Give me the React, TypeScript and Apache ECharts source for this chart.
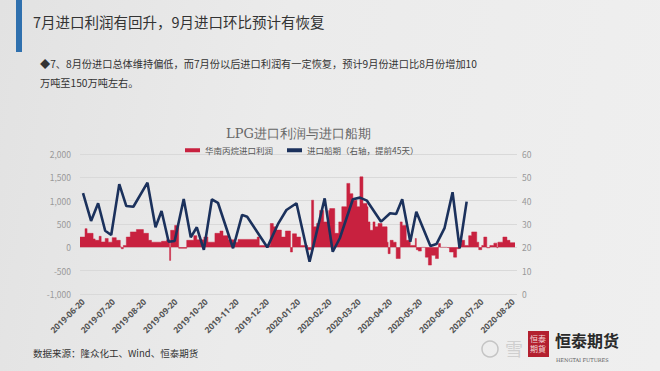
import React, { useEffect, useRef } from "react";
import * as echarts from "echarts";

const xTickLabels = [
  "2019-06-20", "2019-07-20", "2019-08-20", "2019-09-20", "2019-10-20",
  "2019-11-20", "2019-12-20", "2020-01-20", "2020-02-20", "2020-03-20",
  "2020-04-20", "2020-05-20", "2020-06-20", "2020-07-20", "2020-08-20",
];

// 华南丙烷进口利润 (left axis), value holds from its date until the next one
const profitDates = [
  "2019-06-17", "2019-06-22", "2019-06-24", "2019-06-30", "2019-07-02", "2019-07-06",
  "2019-07-08", "2019-07-12", "2019-07-15", "2019-07-19", "2019-07-23", "2019-07-27",
  "2019-07-28", "2019-07-30", "2019-08-02", "2019-08-06", "2019-08-12", "2019-08-19",
  "2019-08-24", "2019-08-27", "2019-09-06", "2019-09-11", "2019-09-14", "2019-09-15",
  "2019-09-19", "2019-09-23", "2019-10-01", "2019-10-08", "2019-10-11", "2019-10-18",
  "2019-10-22", "2019-10-29", "2019-11-03", "2019-11-06", "2019-11-11", "2019-11-18",
  "2019-11-21", "2019-12-10", "2019-12-12", "2019-12-23", "2019-12-26", "2019-12-29",
  "2020-01-03", "2020-01-07", "2020-01-12", "2020-01-14", "2020-01-18", "2020-01-22",
  "2020-01-29", "2020-02-02", "2020-02-04", "2020-02-07", "2020-02-10", "2020-02-14",
  "2020-02-19", "2020-02-20", "2020-02-25", "2020-02-29", "2020-03-03", "2020-03-08",
  "2020-03-11", "2020-03-14", "2020-03-18", "2020-03-21", "2020-03-24", "2020-03-28",
  "2020-03-29", "2020-03-31", "2020-04-03", "2020-04-05", "2020-04-08", "2020-04-12",
  "2020-04-17", "2020-04-18", "2020-04-20", "2020-04-23", "2020-04-26", "2020-04-30",
  "2020-05-02", "2020-05-06", "2020-05-10", "2020-05-15", "2020-05-16", "2020-05-18",
  "2020-05-21", "2020-05-25", "2020-05-28", "2020-05-31", "2020-06-04", "2020-06-07",
  "2020-06-09", "2020-06-15", "2020-06-18", "2020-06-22", "2020-06-25", "2020-06-28",
  "2020-06-30", "2020-07-03", "2020-07-07", "2020-07-10", "2020-07-15", "2020-07-17",
  "2020-07-20", "2020-07-22", "2020-07-25", "2020-07-28", "2020-08-01", "2020-08-04",
  "2020-08-05", "2020-08-10", "2020-08-14", "2020-08-17", "2020-08-22",
];
const profitValues = [
  220, 400, 300, 180, 150, 236,
  115, 190, 110, 208, 150, 10,
  -30, 40, 220, 330, 380, 300,
  150, 110, 130, 160, -280, 365,
  470, -20, 150, 250, 160, 220,
  110, 300, 350, 250, 160, 110,
  170, 220, 40, 510, 440, 370,
  220, 350, -100, 290, 220, 40,
  -50, 1010, 440, 510, 790, 545,
  790, 830, 300, 545, 870, 1370,
  1150, 1010, 870, 1510, 940, 870,
  545, 365, 545, 440, 510, 440,
  110, -135, 150, 110, -240, 545,
  470, 150, 40, 190, -50, -80,
  0, -210, -380, -170, -240, 80,
  0, -10, -100, -210, -30, 80,
  150, 40, 250, 330, 110, -50,
  40, 220, -10, 40, 90, -10,
  110, 220, 150, 100, 100,
];

// 进口船期（右轴，提前45天）
const shipDates = [
  "2019-06-20", "2019-06-28", "2019-07-05", "2019-07-12", "2019-07-18", "2019-07-26",
  "2019-08-02", "2019-08-09", "2019-08-23", "2019-08-31", "2019-09-06", "2019-09-13",
  "2019-09-19", "2019-09-28", "2019-10-05", "2019-10-11", "2019-10-18", "2019-10-26",
  "2019-11-01", "2019-11-16", "2019-11-25", "2019-11-30", "2019-12-20", "2019-12-31",
  "2020-01-08", "2020-01-18", "2020-01-31", "2020-02-15", "2020-02-23", "2020-03-01",
  "2020-03-14", "2020-03-21", "2020-03-28", "2020-04-11", "2020-04-20", "2020-04-26",
  "2020-05-02", "2020-05-10", "2020-05-16", "2020-05-30", "2020-06-05", "2020-06-13",
  "2020-06-21", "2020-06-28", "2020-07-05",
];
const shipValues = [
  43.2, 31.3, 38.9, 27.1, 25.3, 47.1,
  37.7, 37.4, 47.7, 28.6, 35.6, 22.4,
  22.7, 40.7, 24.3, 28.6, 18.9, 40.6,
  39.1, 19.6, 33.9, 33.1, 20.0, 30.3,
  36.0, 38.9, 13.8, 41.0, 18.1, 23.9,
  40.6, 41.3, 40.0, 31.0, 34.6, 34.3,
  40.6, 22.4, 35.3, 20.6, 21.4, 28.2,
  43.6, 19.6, 39.6,
];

const profitName = "华南丙烷进口利润";
const shipName = "进口船期（右轴，提前45天）";

const ts = (s: string) => new Date(s + "T00:00:00").getTime();
const pad = (n: number) => (n < 10 ? "0" + n : "" + n);

export default function App() {
  const ref = useRef<HTMLDivElement>(null);

  useEffect(() => {
    if (!ref.current) return;
    const chart = echarts.init(ref.current, undefined, { renderer: "svg" });
    const cjk = "'Noto Sans CJK SC', 'Noto Sans', sans-serif";
    const option: any = {
      animation: false,
      backgroundColor: "transparent",
      textStyle: { fontFamily: cjk },
      title: {
        text: "LPG进口利润与进口船期",
        left: 221,
        top: 122,
        textStyle: {
          fontFamily: "'DejaVu Serif', 'Liberation Serif', serif",
          fontSize: 13,
          fontWeight: "normal",
          color: "#666",
        },
      },
      legend: {
        left: 180,
        top: 141,
        itemGap: 14,
        itemWidth: 15,
        itemHeight: 4,
        textStyle: { fontSize: 8.5, color: "#555", fontFamily: cjk },
        data: [
          { name: profitName, icon: "rect" },
          { name: shipName, icon: "rect" },
        ],
      },
      grid: { left: 80, right: 143, top: 154, bottom: 77 },
      xAxis: {
        type: "value",
        min: ts("2019-06-17"),
        max: ts("2020-08-24"),
        axisLine: { show: false },
        axisTick: { show: false },
        splitLine: { show: false },
        axisLabel: {
          customValues: xTickLabels.map(ts),
          hideOverlap: false,
          showMinLabel: true,
          showMaxLabel: true,
          rotate: 45,
          margin: 6,
          fontSize: 8.5,
          fontWeight: "bold",
          color: "#555",
          fontFamily: "'Open Sans', 'Noto Sans', sans-serif",
          formatter: (v: number) => {
            const d = new Date(v);
            return d.getFullYear() + "-" + pad(d.getMonth() + 1) + "-" + pad(d.getDate());
          },
        },
      },
      yAxis: [
        {
          type: "value",
          min: -1000,
          max: 2000,
          interval: 500,
          axisLine: { show: false },
          axisTick: { show: false },
          axisLabel: {
            fontSize: 8.5,
            color: "#999",
            margin: 9,
            formatter: (v: number) => v.toLocaleString("en-US"),
          },
          splitLine: { lineStyle: { color: "#d9d9d9", width: 1 } },
        },
        {
          type: "value",
          min: 0,
          max: 60,
          interval: 10,
          position: "right",
          axisLine: { show: false },
          axisTick: { show: false },
          axisLabel: { fontSize: 8.5, color: "#999", margin: 5 },
          splitLine: { show: false },
        },
      ],
      series: [
        {
          name: profitName,
          type: "line",
          step: "end",
          yAxisIndex: 0,
          symbol: "none",
          color: "#c8213f",
          lineStyle: { width: 0.5, color: "#c8213f" },
          areaStyle: { color: "#c8213f", opacity: 1 },
          data: profitDates.map((d, i) => [ts(d), profitValues[i]]),
          z: 2,
        },
        {
          name: shipName,
          type: "line",
          yAxisIndex: 1,
          symbol: "none",
          color: "#1b315c",
          lineStyle: { width: 2.6, color: "#1b315c" },
          data: shipDates.map((d, i) => [ts(d), shipValues[i]]),
          z: 3,
        },
      ],
      graphic: [
        { type: "rect", left: 16, top: 0, shape: { width: 6, height: 52 }, style: { fill: "#2f70ae" } },
        {
          type: "text",
          left: 33,
          top: 14,
          style: { text: "7月进口利润有回升，9月进口环比预计有恢复", fontSize: 14.5, fill: "#333", fontFamily: cjk },
        },
        {
          type: "text",
          left: 40,
          top: 58,
          style: {
            text: "◆7、8月份进口总体维持偏低，而7月份以后进口利润有一定恢复，预计9月份进口比8月份增加10",
            fontSize: 10.2,
            fill: "#333",
            fontFamily: cjk,
          },
        },
        {
          type: "text",
          left: 40,
          top: 77,
          style: { text: "万吨至150万吨左右。", fontSize: 10.2, fill: "#333", fontFamily: cjk },
        },
        {
          type: "text",
          left: 33,
          top: 348,
          style: { text: "数据来源：隆众化工、Wind、恒泰期货", fontSize: 9.5, fill: "#333", fontFamily: cjk },
        },
        { type: "circle", shape: { cx: 490, cy: 349, r: 8 }, style: { fill: "none", stroke: "#c4c4c4", lineWidth: 1.5 } },
        {
          type: "text",
          left: 505,
          top: 339,
          style: { text: "雪", fontSize: 18, fill: "#cfcfcf", fontFamily: cjk },
        },
        { type: "rect", left: 528, top: 331, shape: { width: 21, height: 26 }, style: { fill: "#b3202f" } },
        {
          type: "text",
          left: 530,
          top: 333,
          style: { text: "恒泰\n期貨", fontSize: 8, lineHeight: 10, fill: "#f3d9d9", fontFamily: cjk },
        },
        {
          type: "text",
          left: 555,
          top: 332,
          style: { text: "恒泰期货", fontSize: 16, fontWeight: "bold", fill: "#2a2a2a", fontFamily: cjk },
        },
        {
          type: "text",
          left: 556,
          top: 357,
          style: { text: "HENGTAI FUTURES", fontSize: 5, fill: "#555", fontFamily: "'DejaVu Serif', serif" },
        },
      ],
    };
    chart.setOption(option);
    return () => chart.dispose();
  }, []);

  return (
    <div
      style={{
        position: "fixed",
        left: 0,
        top: 0,
        width: 660,
        height: 371,
        background: "linear-gradient(100deg, #e2e2e2 0%, #ebebeb 40%, #efefef 100%)",
      }}
    >
      <div ref={ref} style={{ width: 660, height: 371 }} />
    </div>
  );
}
